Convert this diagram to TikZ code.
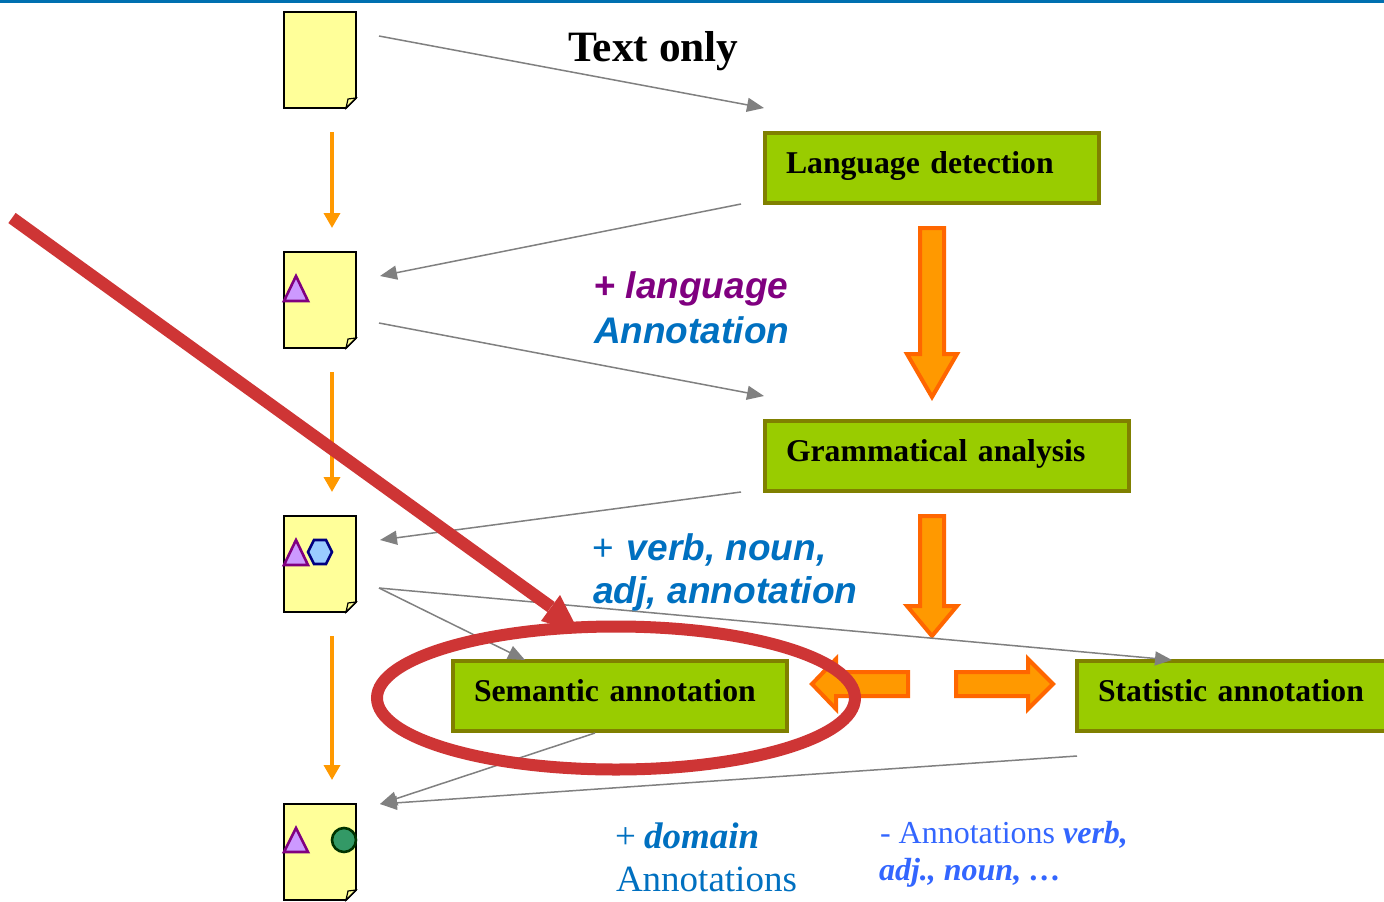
\documentclass[tikz,border=0pt]{standalone}
\usepackage{fontspec}
\setmainfont{Liberation Serif}
\setsansfont{Liberation Sans}
\usetikzlibrary{arrows.meta,shapes.geometric}
\definecolor{docfill}{HTML}{FFFF99}
\definecolor{boxfill}{HTML}{99CC00}
\definecolor{boxline}{HTML}{808000}
\definecolor{blockfill}{HTML}{FF9900}
\definecolor{blockline}{HTML}{FF6600}
\definecolor{redmark}{HTML}{CE3535}
\definecolor{topblue}{HTML}{0070B0}
\definecolor{labblue}{HTML}{0070C0}
\definecolor{labpurple}{HTML}{800080}
\definecolor{labperi}{HTML}{3366FF}
\definecolor{trifill}{HTML}{CC99FF}
\definecolor{hexfill}{HTML}{99CCFF}
\definecolor{hexline}{HTML}{000080}
\definecolor{circfill}{HTML}{339966}
\definecolor{circline}{HTML}{003300}
\tikzset{
  x=1pt,y=-1pt,
  docline/.style={draw=black,line width=1.8pt,line join=miter,fill=docfill},
  greenbox/.style={draw=boxline,fill=boxfill,line width=4.6pt,anchor=north west,inner xsep=21pt,inner ysep=0pt,outer sep=0pt,text height=40pt,text depth=30pt,align=left,font=\fontsize{31.7}{34}\selectfont\bfseries},
  greyarrow/.style={draw=gray,line width=1.5pt,-{Triangle[length=17pt,width=14pt,fill=gray]}},
  thinorange/.style={draw=blockfill,line width=3.5pt,-{Triangle[length=15pt,width=16pt,fill=blockfill]}},
  blockarrow/.style={draw=blockline,fill=blockfill,line width=4pt,line join=miter},
  textlabel/.style={anchor=base west,inner sep=0pt,outer sep=0pt},
  trimark/.style={draw=labpurple,fill=trifill,line width=2.6pt},
  hexmark/.style={draw=hexline,fill=hexfill,line width=2.6pt},
  circmark/.style={draw=circline,fill=circfill,line width=2.6pt},
  redline/.style={draw=redmark,line width=12.5pt},
  invisdoc/.style={minimum width=72pt,minimum height=96pt,inner sep=0pt,outer sep=0pt}
}
\newcommand{\docpage}[2]{%
  \node[invisdoc] (#1) at (320,#2+48) {};
  \draw[docline] (284,#2) -- (356,#2) -- (356,#2+86) -- (346,#2+96) -- (284,#2+96) -- cycle;
  \draw[docline,line width=1.2pt] (346,#2+96) -- (348,#2+87) -- (356,#2+86) -- cycle;
}
\begin{document}
\begin{tikzpicture}
\clip (0,0) rectangle (1384,902);
\fill[white] (0,0) rectangle (1384,902);
\fill[topblue] (0,0) rectangle (1384,3);

\docpage{d1}{12}
\docpage{d2}{252}
\docpage{d3}{516}
\docpage{d4}{804}

\draw[trimark] (296,276) -- (308,301) -- (284,301) -- cycle;
\draw[trimark] (296,540) -- (308,565) -- (284,565) -- cycle;
\draw[hexmark] (308,552) -- (314,540) -- (326,540) -- (332,552) -- (326,564) -- (314,564) -- cycle;
\draw[trimark] (296,828) -- (308,852) -- (284,852) -- cycle;
\node[circle,circmark,minimum size=24pt,inner sep=0pt] (dot) at (344,840) {};

\node[greenbox,text width=292pt] (lang) at (765,133) {Language detection};
\node[greenbox,text width=322pt] (gram) at (765,421) {Grammatical analysis};
\node[greenbox,text width=292pt] (sem) at (453,661) {Semantic annotation};
\node[greenbox,text width=290pt] (stat) at (1077,661) {Statistic annotation};

\coordinate (o1) at (379,36);
\coordinate (i1) at (764,108);
\coordinate (o2) at (741,204);
\coordinate (i2) at (380,276);
\coordinate (o3) at (379,323);
\coordinate (i3) at (764,396);
\coordinate (o4) at (741,492);
\coordinate (i4) at (380,540);
\coordinate (o5) at (379,588);
\coordinate (i5) at (525,660);
\coordinate (i6) at (1172,660);
\coordinate (o7) at (595,733);
\coordinate (i7) at (380,804);
\coordinate (o8) at (1077,756);

% block arrows
\draw[blockarrow] (920,228) -- (944,228) -- (944,354) -- (957,354) -- (932,397) -- (907,354) -- (920,354) -- cycle;
\draw[blockarrow] (920,516) -- (944,516) -- (944,606) -- (957,606) -- (932,636) -- (907,606) -- (920,606) -- cycle;
\draw[blockarrow] (908,672) -- (908,696) -- (836,696) -- (836,709) -- (812,684) -- (836,659) -- (836,672) -- cycle;
\draw[blockarrow] (956,672) -- (956,696) -- (1028,696) -- (1028,709) -- (1053,684) -- (1028,659) -- (1028,672) -- cycle;

% grey connectors
\draw[greyarrow] (o1) -- (i1);
\draw[greyarrow] (o2) -- (i2);
\draw[greyarrow] (o3) -- (i3);
\draw[greyarrow] (o4) -- (i4);
\draw[greyarrow] (o5) -- (i5);
\draw[greyarrow] (o5) -- (i6);
\draw[greyarrow] (o7) -- (i7);
\draw[greyarrow] (o8) -- (i7);

% thin orange arrows
\coordinate (t1) at (332,132);
\coordinate (h1) at (332,228);
\coordinate (t2) at (332,372);
\coordinate (h2) at (332,492);
\coordinate (t3) at (332,636);
\coordinate (h3) at (332,780);
\draw[thinorange] (t1) -- (h1);
\draw[thinorange] (t2) -- (h2);
\draw[thinorange] (t3) -- (h3);

% labels
\node[textlabel,font=\fontsize{43.3}{45}\selectfont\bfseries] (title) at (568,61) {Text only};
\node[textlabel,text=labpurple,font=\fontsize{37}{39}\selectfont\sffamily\bfseries] (plang) at (594,298) {+ \textit{language}};
\node[textlabel,text=labblue,font=\fontsize{37}{39}\selectfont\sffamily\bfseries\itshape] (ann) at (594,343) {Annotation};
\node[textlabel,text=labblue,font=\fontsize{37}{39}\selectfont\sffamily\bfseries] (pverb) at (592,560) {\textmd{+}\hspace{3pt} \textit{verb, noun,}};
\node[textlabel,text=labblue,font=\fontsize{37.2}{39}\selectfont\sffamily\bfseries\itshape] (adj) at (593,603) {adj, annotation};
\node[textlabel,text=labblue,font=\fontsize{37}{39}\selectfont] (pdom) at (615,848) {+\hspace{-1pt} \textbf{\textit{domain}}};
\node[textlabel,text=labblue,font=\fontsize{37}{39}\selectfont] (anns) at (616,891) {Annotations};
\node[textlabel,text=labperi,font=\fontsize{32}{34}\selectfont] (minus) at (880,843) {- Annotations \textbf{\textit{verb,}}};
\node[textlabel,text=labperi,font=\fontsize{32}{34}\selectfont\bfseries\itshape] (adjn) at (879,880) {adj., noun, …};

% red emphasis
\coordinate (rs) at (12,218);
\coordinate (re) at (551,607);
\draw[redline] (rs) -- (re);
\fill[redmark] (560,595) -- (579,632) -- (541,621) -- cycle;
\node[draw=redmark,line width=12pt,ellipse,minimum width=478pt,minimum height=143pt,inner sep=0pt] (ring) at (616,698) {};
\end{tikzpicture}
\end{document}
